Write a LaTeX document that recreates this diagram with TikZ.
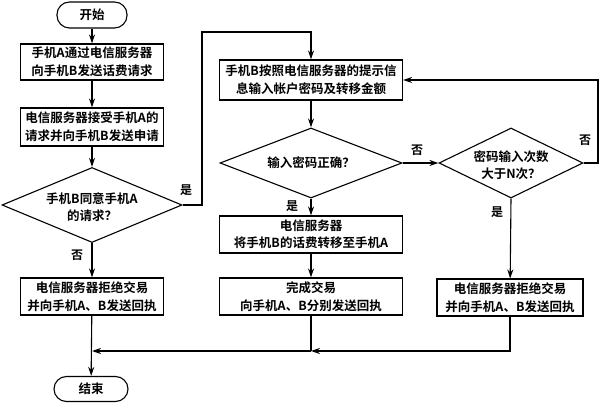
\documentclass[tikz,border=0pt]{standalone}
\usepackage{fontspec}
\setmainfont{Noto Sans CJK SC}[BoldFont={Noto Sans CJK SC Bold}]
\usetikzlibrary{shapes.geometric,arrows.meta}
\tikzset{
  x=1pt,y=-1pt,
  every node/.style={font=\fontsize{12.5}{17.5}\selectfont\bfseries, align=center, inner sep=0pt},
  box/.style={draw, line width=1.1pt, rectangle},
  term/.style={draw, line width=1.1pt, rectangle, rounded corners=12.5pt},
  dia/.style={draw, line width=1.1pt, diamond, inner sep=0pt},
  conn/.style={line width=1.1pt},
  arr/.style={line width=1.1pt, -{Stealth[length=9pt,width=6pt]}},
  lab/.style={font=\fontsize{12}{14}\selectfont\bfseries}
}
\begin{document}
\begin{tikzpicture}
\useasboundingbox (0,0) rectangle (600,403);
% left column
\node[term, minimum width=70pt, minimum height=26pt] (start) at (92,15) {开始};
\node[box, minimum width=143pt, minimum height=36pt] (b1) at (92,62) {手机A通过电信服务器\\向手机B发送话费请求};
\node[box, minimum width=143pt, minimum height=38pt] (b2) at (92,127) {电信服务器接受手机A的\\请求并向手机B发送申请};
\node[dia, minimum width=180pt, minimum height=75pt] (d1) at (92,205) {};
\node (d1t) at (92,207) {手机B同意手机A\\的请求？};
\node[box, minimum width=143pt, minimum height=37pt] (b3) at (92,296.5) {电信服务器拒绝交易\\并向手机A、B发送回执};
\node[term, minimum width=74pt, minimum height=25pt] (end) at (91,389) {结束};
% middle column
\node[box, minimum width=183pt, minimum height=40pt] (b4) at (311,80) {手机B按照电信服务器的提示信\\息输入帐户密码及转移金额};
\node[dia, minimum width=182pt, minimum height=70pt] (d2) at (311,163) {};
\node (d2t) at (311,163) {输入密码正确？};
\node[box, minimum width=183pt, minimum height=37pt] (b5) at (311,234.5) {电信服务器\\将手机B的话费转移至手机A};
\node[box, minimum width=183pt, minimum height=37pt] (b6) at (311,296.5) {完成交易\\向手机A、B分别发送回执};
% right column
\node[dia, minimum width=144pt, minimum height=70pt] (d3) at (511,163) {};
\node (d3t) at (511,165) {密码输入次数\\大于N次？};
\node[box, minimum width=146pt, minimum height=37pt] (b7) at (510,297.5) {电信服务器拒绝交易\\并向手机A、B发送回执};
% helper coordinates
\coordinate (m1) at (92,351);
\coordinate (m2) at (311,351);
\coordinate (m3) at (510,351);
\coordinate (y1) at (202,205);
\coordinate (y2) at (202,32);
\coordinate (y3) at (311,32);
\coordinate (r1) at (598,163);
\coordinate (r2) at (598,80);
% labels
\node[lab] (l1) at (77,255) {否};
\node[lab] (l2) at (186,190) {是};
\node[lab] (l3) at (292,206) {是};
\node[lab] (l4) at (417,150) {否};
\node[lab] (l5) at (585,140) {否};
\node[lab] (l6) at (497,212) {是};
% connectors
\draw[arr] (start) -- (b1);
\draw[arr] (b1) -- (b2);
\draw[arr] (b2) -- (d1.north);
\draw[arr] (d1.south) -- (b3);
\draw[arr] (b3) -- (end);
\draw[arr] (d1.east) -- (y1) -- (y2) -- (y3) -- (b4.north);
\draw[arr] (b4) -- (d2.north);
\draw[arr] (d2.south) -- (b5);
\draw[arr] (b5) -- (b6);
\draw[conn] (b6.south) -- (m2);
\draw[arr] (d2.east) -- (d3.west);
\draw[arr] (d3.east) -- (r1) -- (r2) -- (b4.east);
\draw[arr] (d3.south) -- (b7);
\draw[arr] (b7.south) -- (m3) -- (m2);
\draw[arr] (m2) -- (m1);
\end{tikzpicture}
\end{document}
